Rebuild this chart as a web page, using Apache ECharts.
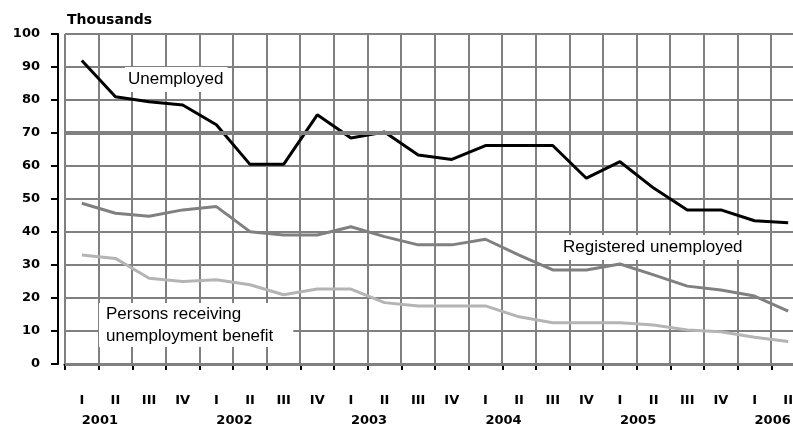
<!DOCTYPE html>
<html>
<head>
<meta charset="utf-8">
<script src="https://cdn.jsdelivr.net/npm/echarts@6/dist/echarts.min.js"></script>
<style>
  html, body { margin: 0; padding: 0; background: #fff; }
  #chart { width: 793px; height: 431px; }
</style>
</head>
<body>
<div id="chart"></div>
<script>
// quarters 2001 I .. 2006 II
var quarters = ['I', 'II', 'III', 'IV', 'I', 'II', 'III', 'IV', 'I', 'II', 'III', 'IV',
  'I', 'II', 'III', 'IV', 'I', 'II', 'III', 'IV', 'I', 'II'];
var years = ['2001', '', '', '', '2002', '', '', '', '2003', '', '', '',
  '2004', '', '', '', '2005', '', '', '', '2006', ''];

var unemployed = [92, 81, 79.5, 78.5, 72.5, 60.5, 60.5, 75.5, 68.5, 70.3, 63.3, 62,
  66.2, 66.2, 66.2, 56.3, 61.3, 53.3, 46.7, 46.7, 43.4, 42.8];
var registered = [48.7, 45.7, 44.8, 46.7, 47.7, 40.1, 39.1, 39.1, 41.6, 38.6, 36.1, 36.1,
  37.8, 33, 28.5, 28.5, 30.3, 27, 23.6, 22.4, 20.6, 16];
var benefit = [33, 32, 26, 25, 25.5, 24, 21, 22.7, 22.7, 18.6, 17.6, 17.6,
  17.6, 14.3, 12.5, 12.5, 12.5, 11.8, 10.3, 9.8, 8.1, 6.8];

var categories = quarters.map(function (q, i) { return i + ':' + q; });

var tickFont = '"DejaVu Sans", sans-serif';
var textFont = '"Liberation Sans", Arial, sans-serif';

var myChart = echarts.init(document.getElementById('chart'));

// vertical grid line on the left edge of each quarter band
function renderQuarterLine(params, api) {
  var top = api.coord([api.value(0), 100]);
  var bottom = api.coord([api.value(0), 0]);
  var half = api.size([1, 0])[0] / 2;
  var x = Math.round(top[0] - half);
  return {
    type: 'line',
    shape: { x1: x, y1: top[1], x2: x, y2: bottom[1] },
    style: { stroke: '#808080', lineWidth: 2 }
  };
}

var option = {
  animation: false,
  title: {
    text: 'Thousands',
    left: 62,
    top: 8,
    textStyle: { fontFamily: tickFont, fontWeight: 'bold', fontSize: 14, color: '#000' }
  },
  grid: { left: 65, right: -12, top: 34, bottom: 67, outerBoundsMode: 'none', containLabel: false },
  xAxis: [
    {
      type: 'category',
      data: categories,
      boundaryGap: true,
      offset: 10,
      axisLine: { lineStyle: { color: '#000', width: 3 } },
      axisTick: { show: true, interval: 0, length: 6, lineStyle: { color: '#000', width: 2 } },
      axisLabel: {
        interval: 0,
        margin: 20,
        fontFamily: tickFont,
        fontWeight: 'bold',
        fontSize: 13,
        color: '#000',
        formatter: function (v, i) { return quarters[i]; }
      },
      splitLine: { show: false }
    },
    {
      type: 'category',
      data: categories,
      boundaryGap: true,
      position: 'bottom',
      offset: 10,
      axisLine: { show: false },
      axisTick: { show: false },
      splitLine: { show: false },
      axisLabel: {
        interval: 0,
        margin: 40,
        align: 'left',
        fontFamily: tickFont,
        fontWeight: 'bold',
        fontSize: 13,
        color: '#000',
        formatter: function (v, i) { return years[i]; }
      }
    }
  ],
  yAxis: {
    type: 'value',
    min: 0,
    max: 100,
    interval: 10,
    offset: 7,
    axisLine: { show: true, lineStyle: { color: '#000', width: 2 } },
    axisTick: { show: true, length: 7, lineStyle: { color: '#000', width: 2 } },
    axisLabel: {
      margin: 18,
      fontFamily: tickFont,
      fontWeight: 'bold',
      fontSize: 13,
      color: '#000'
    },
    splitLine: { show: true, lineStyle: { color: '#808080', width: 2 } }
  },
  graphic: [
    {
      type: 'text', left: 125, top: 67, z: 2,
      style: { text: 'Unemployed', font: '17px ' + textFont, fill: '#000', backgroundColor: '#fff', padding: [4, 4, 4, 3] }
    },
    {
      type: 'text', left: 560, top: 235, z: 2,
      style: { text: 'Registered unemployed', font: '17px ' + textFont, fill: '#000', backgroundColor: '#fff', padding: [4, 3, 4, 3] }
    },
    {
      type: 'text', left: 99, top: 303, z: 2,
      style: {
        text: 'Persons receiving\nunemployment benefit', font: '17px ' + textFont, lineHeight: 22,
        fill: '#000', backgroundColor: '#fff', padding: [0, 20, 0, 7]
      }
    }
  ],
  series: [
    {
      name: 'quarter grid',
      type: 'custom',
      z: 1,
      silent: true,
      clip: false,
      renderItem: renderQuarterLine,
      data: categories.map(function (c, i) { return [i]; }),
      encode: { x: 0 }
    },
    {
      name: 'reference lines',
      type: 'line',
      data: [],
      z: 1,
      silent: true,
      markLine: {
        silent: true,
        symbol: 'none',
        label: { show: false },
        lineStyle: { color: '#808080', type: 'solid' },
        data: [
          { yAxis: 70, lineStyle: { width: 4 } },
          { yAxis: 0, lineStyle: { width: 3 } }
        ]
      }
    },
    {
      name: 'Persons receiving unemployment benefit',
      type: 'line',
      data: benefit,
      symbol: 'none',
      z: 3,
      lineStyle: { color: '#b4b4b4', width: 3 }
    },
    {
      name: 'Registered unemployed',
      type: 'line',
      data: registered,
      symbol: 'none',
      z: 3,
      lineStyle: { color: '#808080', width: 3 }
    },
    {
      name: 'Unemployed',
      type: 'line',
      data: unemployed,
      symbol: 'none',
      z: 3,
      lineStyle: { color: '#000', width: 3 }
    }
  ]
};

myChart.setOption(option);
</script>
</body>
</html>
